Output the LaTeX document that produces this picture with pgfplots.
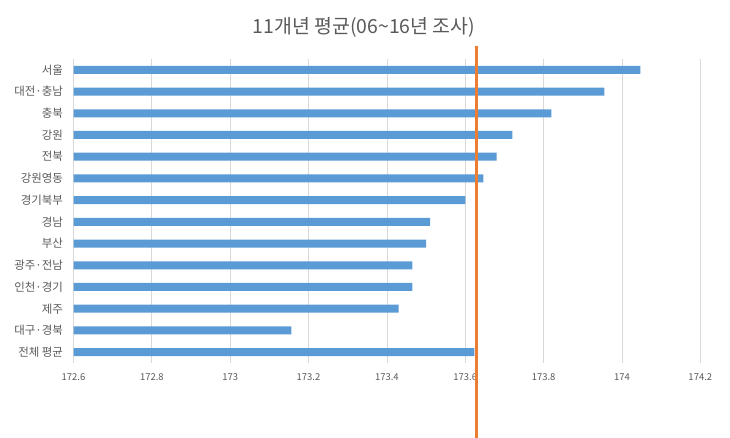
\documentclass[border=0pt]{standalone}
\usepackage{pgfplots}
\pgfplotsset{compat=1.18}
\usepackage{fontspec}
\setmainfont{Noto Sans CJK KR}
\definecolor{barblue}{HTML}{5B9BD5}
\definecolor{lineorange}{HTML}{ED7D31}
\definecolor{gridgray}{HTML}{D9D9D9}
\definecolor{txtgray}{HTML}{595959}
\begin{document}
\begin{tikzpicture}[x=1bp,y=1bp]
\useasboundingbox (0,0) rectangle (730,438);
\begin{axis}[
  at={(73.5bp,75bp)}, anchor=south west,
  scale only axis, width=626.8bp, height=304bp,
  xbar, bar width=8bp,
  xmin=172.6, xmax=174.2,
  ymin=-0.5, ymax=13.5, y dir=reverse,
  xtick={172.6,172.8,173,173.2,173.4,173.6,173.8,174,174.2},
  xticklabels={172.6,172.8,173,173.2,173.4,173.6,173.8,174,174.2},
  ytick={0,1,2,3,4,5,6,7,8,9,10,11,12,13},
  yticklabels={서울,대전·충남,충북,강원,전북,강원영동,경기북부,경남,부산,광주·전남,인천·경기,제주,대구·경북,전체 평균},
  xmajorgrids, major grid style={gridgray, line width=0.8bp},
  axis line style={draw=none},
  major tick length=0pt,
  tick style={draw=none},
  xticklabel style={font=\fontsize{9.5}{10}\selectfont, text=txtgray, yshift=-7bp},
  yticklabel style={font=\fontsize{11.5}{12}\selectfont, text=txtgray, xshift=-7bp},
  /pgf/number format/assume math mode=true,
  clip=true,
]
\addplot[fill=barblue, draw=none] coordinates {
 (174.047,0) (173.955,1) (173.82,2) (173.72,3) (173.68,4) (173.646,5) (173.60,6)
 (173.51,7) (173.50,8) (173.465,9) (173.465,10) (173.43,11) (173.156,12) (173.623,13)
};
\end{axis}
\begin{axis}[
  at={(73.5bp,75bp)}, anchor=south west,
  scale only axis, width=626.8bp, height=304bp,
  xmin=172.6, xmax=174.2, ymin=0, ymax=1,
  hide axis, clip=false,
]
\addplot[lineorange, line width=2.6bp] coordinates {(173.628,-0.3) (173.628,1.043)};
\end{axis}
\node[text=txtgray, font=\fontsize{19.5}{22}\selectfont] at (364,411) {11개년 평균(06\textasciitilde16년 조사)};
\end{tikzpicture}
\end{document}
